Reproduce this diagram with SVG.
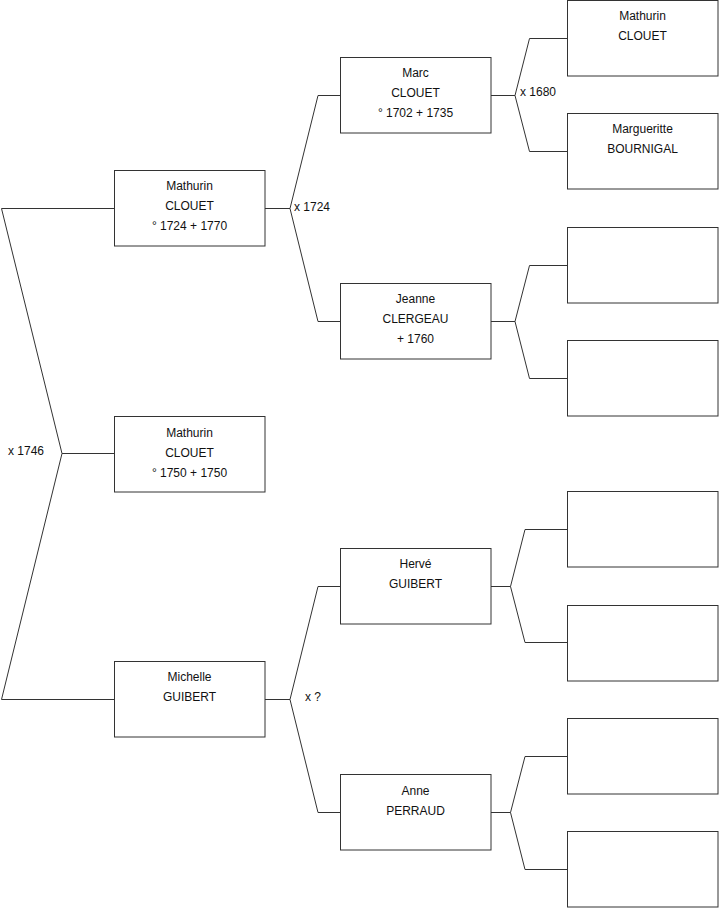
<svg xmlns="http://www.w3.org/2000/svg" width="719" height="908" viewBox="0 0 719 908">
<style>
.box{fill:#fff;stroke:#333;stroke-width:1}
.ln{fill:none;stroke:#333;stroke-width:1}
text{font-family:"Liberation Sans",Arial,sans-serif;font-size:12px;fill:#111}
.c{text-anchor:middle}
</style>
<rect width="719" height="908" fill="#fff"/>
<g id="connectors">
<path class="ln" d="M114 208.5H1.5L62 453.5L1.5 699.5H114M62 453.5H114"/>
<path class="ln" d="M265 208.5H290L318 95.5H340M290 208.5L318 321.5H340"/>
<path class="ln" d="M265 699.5H290L318 586.5H340M290 699.5L318 812.5H340"/>
<path class="ln" d="M491 95.5H515L529.5 38.5H567M515 95.5L529.5 151.5H567"/>
<path class="ln" d="M491 321.5H515L529.5 265.5H567M515 321.5L529.5 378.5H567"/>
<path class="ln" d="M491 586.5H510.5L525 529.5H567M510.5 586.5L525 642.5H567"/>
<path class="ln" d="M491 812.5H510.5L525 756.5H567M510.5 812.5L525 869.5H567"/>
<text x="294" y="211">x 1724</text>
<text x="520" y="96">x 1680</text>
<text x="8" y="455">x 1746</text>
<text x="305" y="701">x ?</text>
</g>
<g id="n-mathurin-1724"><rect class="box" x="114.5" y="170.5" width="150.5" height="75.5"/><text class="c" x="189.5" y="190">Mathurin</text><text class="c" x="189.5" y="210">CLOUET</text><text class="c" x="189.5" y="230">° 1724 + 1770</text></g>
<g id="n-mathurin-1750"><rect class="box" x="114.5" y="416.5" width="150.5" height="75.5"/><text class="c" x="189.5" y="437">Mathurin</text><text class="c" x="189.5" y="457">CLOUET</text><text class="c" x="189.5" y="477">° 1750 + 1750</text></g>
<g id="n-michelle"><rect class="box" x="114.5" y="661.5" width="150.5" height="75.5"/><text class="c" x="189.5" y="681">Michelle</text><text class="c" x="189.5" y="701">GUIBERT</text></g>
<g id="n-marc"><rect class="box" x="340.5" y="57.5" width="150.5" height="75.5"/><text class="c" x="415.5" y="77">Marc</text><text class="c" x="415.5" y="97">CLOUET</text><text class="c" x="415.5" y="117">° 1702 + 1735</text></g>
<g id="n-jeanne"><rect class="box" x="340.5" y="283.5" width="150.5" height="75.5"/><text class="c" x="415.5" y="303">Jeanne</text><text class="c" x="415.5" y="323">CLERGEAU</text><text class="c" x="415.5" y="343">+ 1760</text></g>
<g id="n-herve"><rect class="box" x="340.5" y="548.5" width="150.5" height="75.5"/><text class="c" x="415.5" y="568">Hervé</text><text class="c" x="415.5" y="588">GUIBERT</text></g>
<g id="n-anne"><rect class="box" x="340.5" y="774.5" width="150.5" height="75.5"/><text class="c" x="415.5" y="795">Anne</text><text class="c" x="415.5" y="815">PERRAUD</text></g>
<g id="n-mathurin-p"><rect class="box" x="567.5" y="0.5" width="150.5" height="75.5"/><text class="c" x="642.5" y="20">Mathurin</text><text class="c" x="642.5" y="40">CLOUET</text></g>
<g id="n-margueritte"><rect class="box" x="567.5" y="113.5" width="150.5" height="75.5"/><text class="c" x="642.5" y="133">Margueritte</text><text class="c" x="642.5" y="153">BOURNIGAL</text></g>
<g id="n-g3-3"><rect class="box" x="567.5" y="227.5" width="150.5" height="75.5"/></g>
<g id="n-g3-4"><rect class="box" x="567.5" y="340.5" width="150.5" height="75.5"/></g>
<g id="n-g3-5"><rect class="box" x="567.5" y="491.5" width="150.5" height="75.5"/></g>
<g id="n-g3-6"><rect class="box" x="567.5" y="605.5" width="150.5" height="75.5"/></g>
<g id="n-g3-7"><rect class="box" x="567.5" y="718.5" width="150.5" height="75.5"/></g>
<g id="n-g3-8"><rect class="box" x="567.5" y="831.5" width="150.5" height="75.5"/></g>
</svg>
